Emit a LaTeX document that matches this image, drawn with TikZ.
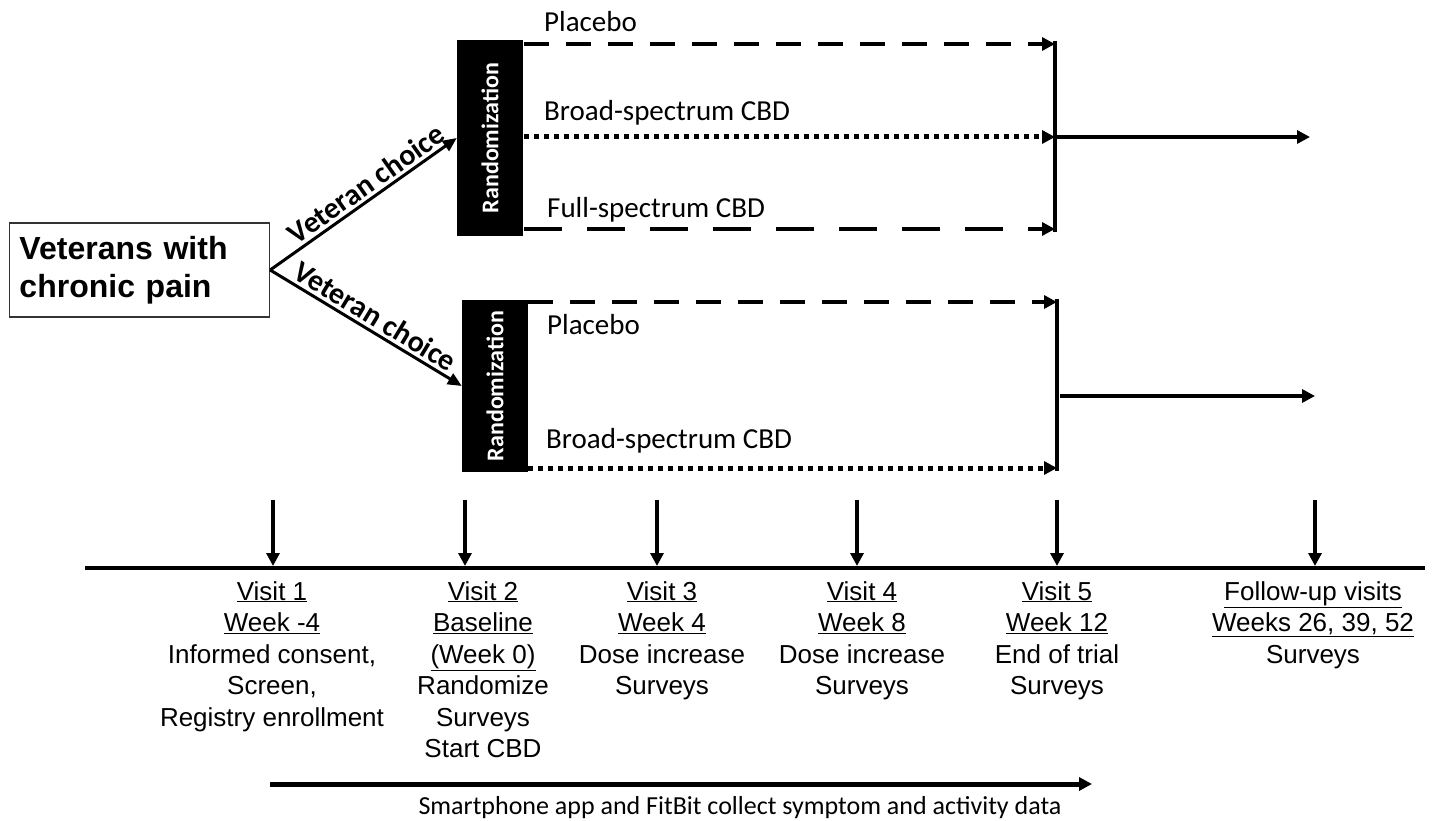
\documentclass[tikz,border=0pt]{standalone}
\usepackage{fontspec}
\setmainfont{Liberation Sans}
\newfontfamily\carlito{Carlito}
\usetikzlibrary{arrows.meta,positioning}
\tikzset{
    >={Triangle[length=13pt,width=13pt]}, % filled arrow heads everywhere
    vetbox/.style={draw=black!80, line width=1.3pt, text width=240pt, inner xsep=10pt,
        minimum height=94pt, align=left, font=\fontsize{32}{38}\selectfont\bfseries},
    randbox/.style={fill=black, text=white, minimum width=66pt, inner sep=0pt,
        font=\carlito\bfseries\fontsize{24}{28}\selectfont}, % black randomization bars
    armlabel/.style={anchor=west, inner sep=0pt, font=\carlito\fontsize{29}{34}\selectfont},
    choicelabel/.style={sloped, above, inner sep=3pt, font=\carlito\bfseries\fontsize{30}{34}\selectfont},
    visit/.style={anchor=north, align=center, inner sep=0pt, font=\fontsize{26}{31.5}\selectfont},
}
\tikzstyle{choice} = [line width=3pt, ->, >={Triangle[length=14pt,width=12pt]}]
\tikzstyle{placebo} = [line width=4.5pt, dash pattern=on 25pt off 17pt, ->]
\tikzstyle{broad} = [line width=5pt, dash pattern=on 5pt off 5pt, ->]
\tikzstyle{full} = [line width=4.5pt, dash pattern=on 38pt off 25pt, ->]
\tikzstyle{bar} = [line width=4pt]
\tikzstyle{arrow} = [line width=4pt, ->]
\tikzstyle{tick} = [line width=3.5pt, ->]

\begin{document}
\begin{tikzpicture}[x=1pt, y=-1pt]
    \useasboundingbox (0,0) rectangle (1435,821);

    % Population box
    \node[vetbox] (vets) at (139.5,270) {Veterans with\\chronic pain};

    % Randomization bars
    \node[randbox, minimum height=196pt] (rand1) at (490,138) {\rotatebox{90}{Randomization}};
    \node[randbox, minimum height=172pt] (rand2) at (495,386) {\rotatebox{90}{Randomization}};

    % Veteran choice
    \draw[choice] (vets.east) -- node[choicelabel, pos=0.56] {Veteran choice} (rand1.west);
    \draw[choice] (vets.east) -- node[choicelabel, pos=0.51] {Veteran choice} (rand2.west);

    % Upper arms
    \coordinate (u1) at (524,44);  \coordinate (ue1) at (1055,44);
    \coordinate (u2) at (524,137); \coordinate (ue2) at (1055,137);
    \coordinate (u3) at (524,229); \coordinate (ue3) at (1055,229);
    \draw[placebo] (u1) -- (ue1);
    \draw[broad] (u2) -- (ue2);
    \draw[full] (u3) -- (ue3);
    \node[armlabel] (plac1) at (544,22) {Placebo};
    \node[armlabel] (broad1) at (544,113) {Broad-spectrum CBD};
    \node[armlabel] (full1) at (547,210) {Full-spectrum CBD};
    \draw[bar] ([yshift=3pt]ue1) -- ([yshift=-3pt]ue3);
    \coordinate (out1) at (1310,137);
    \draw[arrow] (ue2) -- (out1);

    % Lower arms
    \coordinate (l1) at (528,302); \coordinate (le1) at (1057,302);
    \coordinate (l2) at (528,468); \coordinate (le2) at (1057,468);
    \draw[placebo] (l1) -- (le1);
    \draw[broad] (l2) -- (le2);
    \node[armlabel] (plac2) at (547,325) {Placebo};
    \node[armlabel] (broad2) at (546,441) {Broad-spectrum CBD};
    \draw[bar] ([yshift=3pt]le1) -- ([yshift=-3pt]le2);
    \coordinate (in2) at (1060,396); \coordinate (out2) at (1315,396);
    \draw[arrow] (in2) -- (out2);

    % Timeline
    \coordinate (axisL) at (85,568);
    \coordinate (axisR) at (1425,568);
    \draw[line width=4.5pt] (axisL) -- (axisR);
    \coordinate (t1) at (273,500);
    \coordinate (t2) at (465,500);
    \coordinate (t3) at (657,500);
    \coordinate (t4) at (857,500);
    \coordinate (t5) at (1057,500);
    \coordinate (t6) at (1315,500);
    \draw[tick] (t1) -- ([yshift=2pt]t1 |- axisL);
    \draw[tick] (t2) -- ([yshift=2pt]t2 |- axisL);
    \draw[tick] (t3) -- ([yshift=2pt]t3 |- axisL);
    \draw[tick] (t4) -- ([yshift=2pt]t4 |- axisL);
    \draw[tick] (t5) -- ([yshift=2pt]t5 |- axisL);
    \draw[tick] (t6) -- ([yshift=2pt]t6 |- axisL);

    % Visits
    \node[visit] (v1) at (272,581) {\underline{Visit 1}\\\underline{Week -4}\\Informed consent,\\Screen,\\Registry enrollment};
    \node[visit] (v2) at (483,581) {\underline{Visit 2}\\\underline{Baseline}\\\underline{(Week 0)}\\Randomize\\Surveys\\Start CBD};
    \node[visit] (v3) at (662,581) {\underline{Visit 3}\\\underline{Week 4}\\Dose increase\\Surveys};
    \node[visit] (v4) at (862,581) {\underline{Visit 4}\\\underline{Week 8}\\Dose increase\\Surveys};
    \node[visit] (v5) at (1057,581) {\underline{Visit 5}\\\underline{Week 12}\\End of trial\\Surveys};
    \node[visit] (v6) at (1313,581) {\underline{Follow-up visits}\\\underline{Weeks 26, 39, 52}\\Surveys};

    % App data collection
    \coordinate (appL) at (270,784);
    \coordinate (appR) at (1092,784);
    \draw[line width=5pt, ->] (appL) -- (appR);
    \node[font=\carlito\fontsize{26}{30}\selectfont, inner sep=0pt] (app) at (740,808) {Smartphone app and FitBit collect symptom and activity data};
\end{tikzpicture}
\end{document}
